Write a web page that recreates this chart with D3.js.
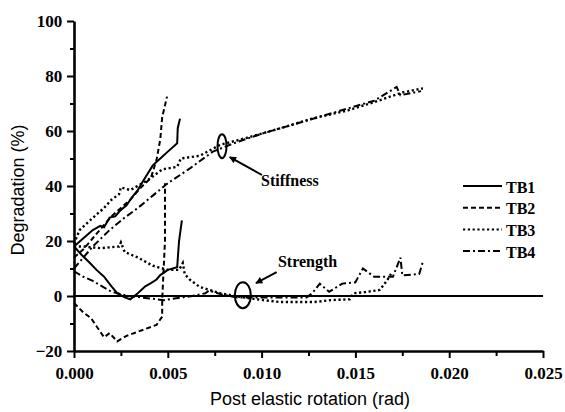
<!DOCTYPE html>
<html>
<head>
<meta charset="utf-8">
<script src="https://cdn.jsdelivr.net/npm/d3@7"></script>
<style>
  body { margin: 0; background: #fff; }
</style>
</head>
<body>
<div id="chart"></div>
<script>
// ---- data ----
var seriesNames = ["TB1", "TB2", "TB3", "TB4"];

var tb1Stiffness = [[0, 18], [0.0005, 21], [0.001, 24], [0.0014, 25.5], [0.0016, 25], [0.0019, 28.5], [0.0022, 29], [0.00245, 31],
  [0.0028, 33], [0.0031, 36], [0.0034, 38.5], [0.0037, 42], [0.0042, 47.5], [0.0046, 50], [0.005, 52.5], [0.0055, 55.5],
  [0.00553, 61], [0.00565, 64.5]];
var tb1Strength = [[0, 18], [0.0004, 15], [0.00085, 12], [0.0012, 9.5], [0.0016, 7], [0.002, 3.5], [0.0023, 1], [0.0027, -0.5],
  [0.003, -1.2], [0.0034, 1], [0.0038, 3.5], [0.0041, 4.7], [0.0044, 6], [0.0046, 7.6], [0.005, 9.5], [0.0055, 10.5],
  [0.0056, 20], [0.00575, 27.5]];
var tb2Stiffness = [[0, 14], [0.0005, 17], [0.001, 21], [0.0015, 25], [0.002, 29], [0.0025, 32], [0.003, 35], [0.0035, 39],
  [0.0041, 43], [0.0044, 49.5], [0.0046, 57], [0.0047, 65], [0.00496, 72.5]];
var tb2Strength = [[0, -2.5], [0.0005, -6], [0.0009, -8], [0.0012, -11], [0.0016, -15], [0.0019, -13.5], [0.0023, -16.5],
  [0.0028, -14.5], [0.0034, -13], [0.0044, -10.5], [0.0047, -7.5], [0.0047, -1.5], [0.00485, 20], [0.00485, 41]];
var tb3Stiffness = [[0, 19], [0.0003, 24], [0.00085, 27.5], [0.0016, 32], [0.002, 35], [0.0024, 37], [0.0025, 39.5],
  [0.003, 38.5], [0.0039, 42], [0.0047, 46], [0.0055, 47], [0.0057, 50], [0.0067, 51], [0.0078, 55], [0.0092, 57.5],
  [0.011, 61], [0.0127, 64.5], [0.0146, 67.5], [0.016, 70.5], [0.0175, 74], [0.0186, 75.5]];
var tb3Strength = [[0, 18], [0.0005, 18], [0.0014, 17.4], [0.0024, 18], [0.0025, 19.5], [0.0027, 16], [0.0034, 14],
  [0.0042, 11], [0.005, 9.5], [0.0056, 9.5], [0.0058, 12], [0.0059, 8], [0.0062, 5.8], [0.0067, 3.3], [0.0078, 1],
  [0.009, -0.5], [0.0101, -1.5], [0.011, -2.2], [0.0128, -2.2], [0.0137, -1.5], [0.0147, -1.2], [0.0149, 1],
  [0.0155, 1.4], [0.0163, 2.2], [0.0167, 5.8], [0.0169, 8]];
var tb4Stiffness = [[0, 10], [0.0005, 14], [0.001, 18], [0.0019, 24], [0.0027, 28.5], [0.0034, 32], [0.0042, 36.5],
  [0.005, 41], [0.0062, 46.5], [0.0074, 52.5], [0.0085, 55.5], [0.01, 59], [0.0115, 62], [0.013, 65], [0.0145, 68],
  [0.016, 71], [0.0172, 76], [0.0174, 73], [0.0185, 74.5]];
var tb4Strength = [[0, 9], [0.0005, 7], [0.001, 5.5], [0.0015, 3.5], [0.002, 1.5], [0.0029, 0], [0.0048, -1.5],
  [0.0063, 0], [0.007, 1], [0.0072, 2], [0.0079, 0.5], [0.0087, -0.5], [0.0103, -0.5], [0.0124, -0.5], [0.0127, 1],
  [0.0131, 4.5], [0.0136, 1.5], [0.0143, 4.5], [0.015, 5], [0.0154, 10], [0.016, 7], [0.017, 7], [0.0174, 14],
  [0.0175, 7.5], [0.0184, 8], [0.0186, 12.5]];

var xTicks = [0, 0.005, 0.010, 0.015, 0.020, 0.025];
var yTicks = [-20, 0, 20, 40, 60, 80, 100];

// ---- layout ----
var width = 565, height = 412;
var margin = {left: 74, top: 21, right: 22, bottom: 61};
var serif = "'Liberation Serif', 'Times New Roman', Times, 'DejaVu Serif', 'Noto Serif', serif";
var sans = "'Liberation Sans', Arial, Helvetica, sans-serif";

var svg = d3.select("#chart").append("svg")
  .attr("width", width)
  .attr("height", height);

var x = d3.scaleLinear().domain([0, 0.025]).range([margin.left, width - margin.right]);
var y = d3.scaleLinear().domain([-20, 100]).range([height - margin.bottom, margin.top]);

// line styles for the four tests
var dashes = {TB1: null, TB2: "5,3", TB3: "2.2,2.6", TB4: "7,3,2,3"};

// zero line
svg.append("line")
  .attr("x1", x(0)).attr("x2", x(0.025))
  .attr("y1", y(0)).attr("y2", y(0))
  .attr("stroke", "#000").attr("stroke-width", 1.8);

// minor ticks first, then main axes over them
svg.append("g")
  .attr("transform", "translate(0," + y(-20) + ")")
  .call(d3.axisBottom(x).tickValues(d3.range(0.0025, 0.025, 0.005)).tickSize(5).tickFormat(""))
  .call(function(g) { g.select(".domain").remove(); });
svg.append("g")
  .attr("transform", "translate(" + x(0) + ",0)")
  .call(d3.axisLeft(y).tickValues(d3.range(-10, 100, 20)).tickSize(4).tickFormat(""))
  .call(function(g) { g.select(".domain").remove(); });

var xAxis = svg.append("g")
  .attr("transform", "translate(0," + y(-20) + ")")
  .call(d3.axisBottom(x).tickValues(xTicks).tickSize(7).tickSizeOuter(0).tickFormat(d3.format(".3f")));
xAxis.selectAll("text").attr("dy", "1.05em");

var yAxis = svg.append("g")
  .attr("transform", "translate(" + x(0) + ",0)")
  .call(d3.axisLeft(y).tickValues(yTicks).tickSize(7).tickSizeOuter(0));
yAxis.selectAll("text").attr("dx", "-0.1em");

svg.selectAll(".tick text")
  .attr("font-family", serif)
  .attr("font-weight", "bold")
  .attr("font-size", 17);
svg.selectAll(".domain").attr("stroke-width", 2.6);
svg.selectAll(".tick line").attr("stroke-width", 2);

// axis titles
svg.append("text")
  .attr("font-family", sans).attr("font-size", 18)
  .attr("x", 310).attr("y", 405)
  .attr("text-anchor", "middle")
  .text("Post elastic rotation (rad)");
svg.append("text")
  .attr("font-family", sans).attr("font-size", 18)
  .attr("transform", "translate(24," + 190 + ") rotate(-90)")
  .attr("text-anchor", "middle")
  .text("Degradation (%)");

// curves
var line = d3.line().x(function(d) { return x(d[0]); }).y(function(d) { return y(d[1]); });
var curves = [
  {name: "TB1", data: tb1Stiffness}, {name: "TB1", data: tb1Strength},
  {name: "TB2", data: tb2Stiffness}, {name: "TB2", data: tb2Strength},
  {name: "TB3", data: tb3Stiffness}, {name: "TB3", data: tb3Strength},
  {name: "TB4", data: tb4Stiffness}, {name: "TB4", data: tb4Strength}
];
svg.append("g").selectAll("path").data(curves).enter().append("path")
  .attr("d", function(d) { return line(d.data); })
  .attr("fill", "none")
  .attr("stroke", "#000")
  .attr("stroke-width", function(d) { return d.name === "TB3" ? 2.4 : 2; })
  .attr("stroke-dasharray", function(d) { return dashes[d.name]; });

// annotations: ellipses and arrows
svg.append("defs").append("marker")
  .attr("id", "head").attr("viewBox", "0 0 10 10")
  .attr("refX", 9).attr("refY", 5)
  .attr("markerWidth", 9).attr("markerHeight", 7)
  .attr("markerUnits", "userSpaceOnUse")
  .attr("orient", "auto")
  .append("path").attr("d", "M0,0L10,5L0,10z").attr("fill", "#000");

svg.append("ellipse")
  .attr("cx", x(0.00789)).attr("cy", y(54.5)).attr("rx", 4.5).attr("ry", 12)
  .attr("fill", "none").attr("stroke", "#000").attr("stroke-width", 2);
svg.append("ellipse")
  .attr("cx", x(0.009)).attr("cy", y(0.3)).attr("rx", 8).attr("ry", 13)
  .attr("fill", "none").attr("stroke", "#000").attr("stroke-width", 2);

svg.append("line")
  .attr("x1", x(0.01002)).attr("y1", y(44))
  .attr("x2", x(0.0083)).attr("y2", y(50.5))
  .attr("stroke", "#000").attr("stroke-width", 2).attr("marker-end", "url(#head)");
svg.append("line")
  .attr("x1", x(0.0108)).attr("y1", y(8.7))
  .attr("x2", x(0.0097)).attr("y2", y(4.7))
  .attr("stroke", "#000").attr("stroke-width", 2).attr("marker-end", "url(#head)");

svg.append("text")
  .attr("font-family", serif).attr("font-weight", "bold").attr("font-size", 16)
  .attr("x", x(0.00997)).attr("y", y(40)).text("Stiffness");
svg.append("text")
  .attr("font-family", serif).attr("font-weight", "bold").attr("font-size", 16)
  .attr("x", x(0.01087)).attr("y", y(10.5)).text("Strength");

// legend
var legend = svg.append("g").selectAll("g").data(seriesNames).enter().append("g")
  .attr("transform", function(d, i) { return "translate(463," + (186 + i * 21.7) + ")"; });
legend.append("line")
  .attr("x1", 0).attr("x2", 39)
  .attr("stroke", "#000").attr("stroke-width", 2)
  .attr("stroke-dasharray", function(d) { return dashes[d]; });
legend.append("text")
  .attr("font-family", serif).attr("font-weight", "bold").attr("font-size", 16)
  .attr("x", 43).attr("y", 6.5).text(function(d) { return d; });
</script>
</body>
</html>
